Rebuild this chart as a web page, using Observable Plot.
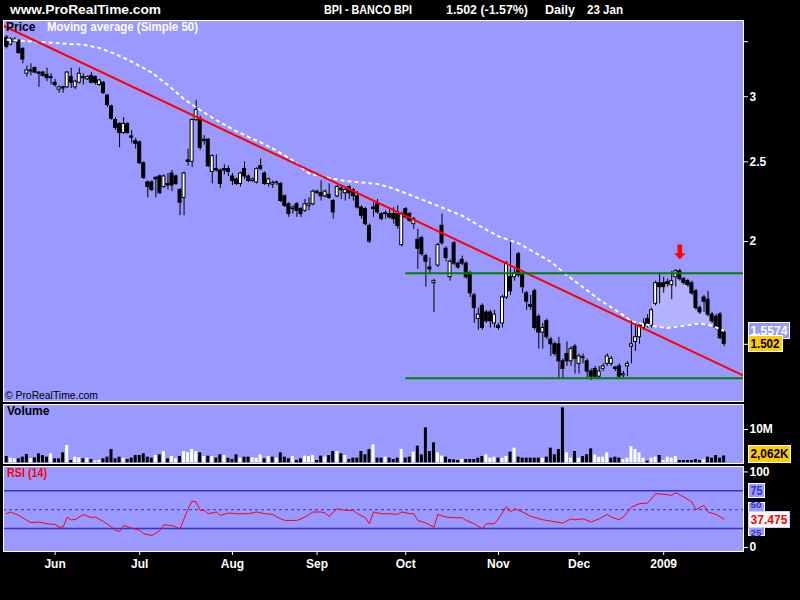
<!DOCTYPE html>
<html><head><meta charset="utf-8">
<script src="https://cdn.jsdelivr.net/npm/d3@7"></script>
<script src="https://cdn.jsdelivr.net/npm/@observablehq/plot@0.6"></script>
<style>
html,body{margin:0;padding:0;background:#000;}
#wrap{position:relative;width:800px;height:600px;background:#000;overflow:hidden;}
#wrap svg{position:absolute;left:0;}
</style></head><body><div id="wrap"></div>
<script>
// ---- DATA ----
const open = [3.54,3.47,3.50,3.51,3.43,3.20,3.22,3.25,3.21,3.21,
3.19,3.17,3.12,3.06,3.08,3.08,3.17,3.08,3.12,3.16,
3.15,3.18,3.17,3.10,3.12,3.01,2.92,2.81,2.78,2.71,
2.78,2.685,2.65,2.64,2.49,2.36,2.36,2.39,2.40,2.33,
2.35,2.42,2.40,2.31,2.26,2.51,2.50,2.81,2.82,2.66,
2.66,2.43,2.45,2.44,2.45,2.45,2.40,2.38,2.35,2.45,
2.40,2.37,2.36,2.47,2.42,2.35,2.345,2.36,2.35,2.27,
2.22,2.19,2.22,2.19,2.18,2.21,2.22,2.30,2.29,2.27,
2.28,2.24,2.27,2.32,2.29,2.33,2.31,2.27,2.20,2.19,
2.09,2.20,2.22,2.16,2.165,2.16,2.16,2.16,1.98,2.19,
2.16,2.10,2.01,2.02,1.92,1.86,1.78,1.87,2.09,1.96,
1.81,1.99,1.88,1.90,1.88,1.83,1.72,1.61,1.67,1.64,
1.64,1.59,1.58,1.59,1.71,1.81,1.81,1.93,1.82,1.73,
1.675,1.74,1.62,1.55,1.60,1.52,1.50,1.50,1.43,1.46,
1.43,1.49,1.42,1.447,1.43,1.39,1.40,1.37,1.40,1.42,
1.42,1.405,1.41,1.375,1.41,1.49,1.51,1.53,1.57,1.61,
1.58,1.68,1.78,1.78,1.785,1.77,1.81,1.84,1.80,1.79,
1.78,1.74,1.66,1.71,1.70,1.63,1.62,1.63,1.55];
const high = [3.56,3.54,3.54,3.52,3.44,3.27,3.29,3.26,3.22,3.22,
3.25,3.20,3.15,3.09,3.09,3.22,3.25,3.14,3.25,3.20,
3.18,3.21,3.18,3.15,3.13,3.02,2.93,2.83,2.79,2.83,
2.79,2.73,2.67,2.65,2.50,2.37,2.37,2.40,2.41,2.41,
2.42,2.44,2.41,2.32,2.43,2.59,2.82,2.97,2.84,2.69,
2.67,2.55,2.55,2.45,2.48,2.47,2.42,2.39,2.43,2.50,
2.41,2.39,2.46,2.52,2.43,2.39,2.37,2.37,2.36,2.28,
2.23,2.21,2.23,2.20,2.25,2.26,2.31,2.31,2.37,2.31,
2.35,2.25,2.34,2.34,2.32,2.34,2.32,2.30,2.21,2.20,
2.10,2.23,2.25,2.17,2.18,2.19,2.20,2.21,2.17,2.20,
2.17,2.14,2.07,2.03,1.93,1.91,1.80,1.99,2.16,1.97,
1.90,2.00,1.89,1.92,1.89,1.84,1.73,1.66,1.68,1.65,
1.65,1.65,1.59,1.72,1.89,2.01,1.85,1.94,1.83,1.74,
1.72,1.75,1.63,1.59,1.61,1.53,1.51,1.53,1.44,1.51,
1.49,1.50,1.46,1.46,1.44,1.40,1.41,1.41,1.42,1.46,
1.45,1.41,1.42,1.39,1.43,1.60,1.58,1.59,1.61,1.63,
1.66,1.79,1.83,1.81,1.80,1.84,1.85,1.85,1.81,1.80,
1.79,1.75,1.67,1.72,1.74,1.64,1.63,1.64,1.56];
const low = [3.43,3.46,3.49,3.38,3.29,3.17,3.18,3.20,3.08,3.17,
3.13,3.10,3.08,3.03,3.03,3.07,3.07,3.06,3.11,3.10,
3.14,3.11,3.10,3.09,3.02,2.91,2.81,2.73,2.60,2.70,
2.70,2.63,2.59,2.48,2.38,2.26,2.30,2.26,2.28,2.32,
2.31,2.30,2.34,2.15,2.15,2.47,2.46,2.80,2.58,2.62,
2.46,2.35,2.43,2.32,2.41,2.40,2.34,2.34,2.33,2.38,
2.36,2.36,2.35,2.44,2.34,2.33,2.32,2.34,2.23,2.20,
2.14,2.16,2.14,2.14,2.17,2.18,2.21,2.28,2.24,2.26,
2.25,2.13,2.26,2.25,2.24,2.25,2.24,2.19,2.13,2.09,
1.99,2.14,2.16,2.12,2.13,2.13,2.10,2.07,1.97,2.13,
2.11,2.07,1.85,1.92,1.76,1.83,1.64,1.86,1.98,1.89,
1.79,1.87,1.85,1.87,1.80,1.71,1.59,1.56,1.56,1.59,
1.57,1.57,1.56,1.57,1.70,1.72,1.79,1.81,1.73,1.65,
1.65,1.56,1.48,1.48,1.52,1.45,1.45,1.36,1.36,1.41,
1.41,1.38,1.38,1.42,1.36,1.355,1.36,1.36,1.39,1.41,
1.41,1.39,1.365,1.36,1.37,1.42,1.47,1.50,1.56,1.57,
1.57,1.67,1.68,1.73,1.76,1.70,1.76,1.79,1.77,1.76,
1.72,1.65,1.63,1.64,1.62,1.59,1.56,1.52,1.49];
const close = [3.45,3.52,3.52,3.39,3.33,3.23,3.23,3.21,3.20,3.18,
3.16,3.16,3.10,3.08,3.07,3.21,3.12,3.13,3.20,3.17,
3.17,3.12,3.12,3.14,3.03,2.93,2.82,2.75,2.71,2.78,
2.71,2.675,2.63,2.49,2.39,2.33,2.31,2.38,2.29,2.40,
2.34,2.34,2.35,2.23,2.42,2.50,2.81,2.89,2.60,2.65,
2.47,2.54,2.44,2.35,2.44,2.43,2.37,2.35,2.42,2.40,
2.37,2.38,2.45,2.45,2.35,2.38,2.355,2.355,2.24,2.21,
2.16,2.20,2.18,2.16,2.22,2.22,2.30,2.29,2.27,2.30,
2.26,2.17,2.33,2.31,2.31,2.29,2.27,2.20,2.15,2.10,
2.00,2.19,2.17,2.13,2.16,2.14,2.13,2.09,2.16,2.14,
2.12,2.13,1.96,1.93,1.89,1.85,1.79,1.98,1.99,1.91,
1.89,1.88,1.86,1.88,1.81,1.73,1.66,1.63,1.57,1.60,
1.60,1.63,1.57,1.71,1.88,1.74,1.83,1.82,1.76,1.69,
1.665,1.57,1.55,1.57,1.53,1.50,1.46,1.43,1.40,1.43,
1.48,1.44,1.45,1.443,1.39,1.37,1.37,1.39,1.41,1.45,
1.44,1.40,1.37,1.38,1.42,1.50,1.53,1.58,1.59,1.58,
1.65,1.78,1.76,1.76,1.775,1.79,1.84,1.80,1.78,1.77,
1.73,1.66,1.64,1.69,1.63,1.60,1.57,1.526,1.502];
// volume in millions of shares
const volumeM = [1.9,1.4,1.2,1.2,1.7,2.5,1.2,1.5,2.7,2.2,
1.7,2.7,1.2,1.2,3.0,5.2,0.7,1.7,1.5,1.2,
1.4,1.0,0.5,0.7,1.2,1.7,4.0,1.2,1.7,1.4,
1.0,1.4,2.2,2.2,2.7,1.7,1.4,2.2,2.4,3.4,
1.2,1.9,1.2,1.9,3.4,3.0,4.0,3.4,3.0,1.9,
2.0,1.9,1.4,2.4,2.2,1.4,1.0,2.4,1.4,1.7,
1.7,1.5,1.4,2.4,1.2,1.9,1.7,1.4,3.0,1.7,
1.2,1.9,0.7,1.2,2.0,1.9,2.2,0.7,2.0,1.7,
2.2,3.4,3.4,2.7,2.2,1.0,1.4,1.4,3.4,2.4,
4.0,5.4,1.4,1.4,1.7,1.4,1.0,1.4,4.0,1.4,
1.7,3.2,5.0,2.4,10.5,3.4,6.0,3.0,2.0,1.7,
1.0,0.9,0.7,1.0,1.0,1.0,1.0,1.4,1.9,2.4,
1.4,1.7,1.4,1.4,1.9,3.2,4.4,1.7,1.4,1.4,
1.4,1.4,1.4,1.4,1.7,4.4,2.4,4.0,16.5,3.0,
1.4,3.4,1.4,1.9,2.4,4.2,2.4,1.7,1.7,3.0,
1.4,1.7,1.4,1.0,1.4,4.9,4.0,3.0,1.4,0.5,
1.4,1.7,2.2,0.7,1.7,1.4,1.9,0.7,0.7,0.7,
0.7,1.0,0.7,0.9,1.7,1.4,2.2,1.4,2.062];
// Simple moving average (50), sampled at bar indexes
const maIdx = [0,7,11,15,19,23,27,31,36,40,44,48,52,56,60,63,67,71,75,80,84,88,92,96,100,104,108,113,118,122,127,131,135,139,143,147,152,155,160,164,168,172,175,178];
const maVal = [3.52,3.50,3.49,3.48,3.47,3.44,3.38,3.31,3.21,3.10,2.98,2.89,2.81,2.74,2.68,2.64,2.58,2.51,2.42,2.39,2.37,2.36,2.35,2.32,2.28,2.24,2.20,2.15,2.08,2.03,1.99,1.94,1.89,1.82,1.76,1.70,1.64,1.60,1.58,1.57,1.58,1.59,1.58,1.5574];
// RSI(14), sampled at bar indexes
const rsiIdx = [0,1,3,5,6,8,10,12,13,14,15,16,17,19,21,22,24,26,27,28,29,31,33,34,36,37,38,39,41,43,44,45,46,47,48,49,50,52,53,55,57,59,60,62,64,66,67,69,71,72,74,76,78,79,80,81,82,84,86,87,89,90,91,93,95,97,98,100,101,102,104,106,107,109,111,113,114,116,118,119,121,122,124,125,126,128,130,133,135,138,140,141,143,145,147,149,150,152,153,155,157,159,161,163,165,166,168,170,171,173,174,176,178];
const rsiVal = [44.7,47,42.5,35.8,33,33.6,31.4,30.5,27,27,40,36.7,37,43.8,39.4,40.3,34.5,27,22.6,21.2,29.2,25.7,22.6,18.1,16,19,22.6,30,29.2,24.8,38,51.3,61.5,60.2,49.1,49,44.7,47,42.5,45.6,44.7,44.7,44.7,47,44.7,43.8,40.3,35.8,35.8,35.8,40.3,47,47,45.6,41.2,47,51.3,49.1,49.1,44.7,39.4,31.4,47,44.7,44.7,43.8,47,44.7,44.7,35.8,32.3,27,43.8,40.3,39.4,39.4,35.8,31.4,24.8,31.4,31.4,38,54.4,47,51.3,47,41.2,36.7,35,32.3,38,36.7,38,33.6,38,43.8,40.3,36.7,40.3,53.5,58,58.8,71.2,70.4,69,72.6,66.8,60.2,50,55.8,47,43.8,37.475];
const rsiLevels = [75, 25];
const rsiMid = [50];
// axis ticks
const monthIdx = [12,33,56,77,99,122,142,163];
const monthLabels = ["Jun","Jul","Aug","Sep","Oct","Nov","Dec","2009"];
const priceTicks = [1.5,2,2.5,3,3.5];
const priceTickLabels = ["","2","2.5","3",""];
// drawn annotations
const trendIdx = [-0.8,182.8];
const trendVal = [3.66,1.374];
const levelVals = [1.83,1.364];
const levelStart = 99;
const arrowIdx = [167];
const arrowVal = [1.945];
// header / last values
const siteName = "www.ProRealTime.com";
const ticker = "BPI - BANCO BPI";
const lastClose = 1.502, pctChange = -1.57, maLast = 1.5574, volLast = 2.062, volLastText = "2,062K", rsiLast = 37.475;
const period = "Daily", lastDate = "23 Jan";

// ---- CHART ----
const font = '"Liberation Sans", Arial, sans-serif';
const xDomain = [-0.8, 182.8];
const baseStyle = {background:"transparent", color:"#fff", fontFamily:font, fontSize:"12px", fontWeight:"bold", overflow:"visible"};
const bars = close.map((c,i)=>({i, o:open[i], h:high[i], l:low[i], c}));
const maPts = maIdx.map((i,k)=>({i, v:maVal[k]}));
const maInterp = d3.scaleLinear().domain(maIdx).range(maVal);
const zone = d3.range(150,179).map(i=>({i, lo:maInterp(i), hi:Math.max(close[i], maInterp(i))}));
const trend = trendIdx.map((i,k)=>({i, v:trendVal[k]}));
const arrows = arrowIdx.map((i,k)=>({i, v:arrowVal[k]}));
const arrowSymbol = {draw(ctx, size){
  const s = Math.sqrt(size/Math.PI)/8;
  ctx.moveTo(-2.3*s,-7*s); ctx.lineTo(2.3*s,-7*s); ctx.lineTo(2.3*s,1.7*s);
  ctx.lineTo(5.5*s,1.7*s); ctx.lineTo(0,8*s); ctx.lineTo(-5.5*s,1.7*s);
  ctx.lineTo(-2.3*s,1.7*s); ctx.closePath();
}};

const pricePlot = Plot.plot({
  width:800, height:402, marginTop:20, marginBottom:1, marginLeft:3, marginRight:57,
  style:baseStyle,
  x:{domain:xDomain, axis:null, label:null},
  y:{type:"log", domain:[1.278,3.714], label:null},
  marks:[
    Plot.frame({fill:"#9999ff", stroke:"none"}),
    Plot.areaY(zone, {x:"i", y1:"lo", y2:"hi", fill:"#b3b3ff"}),
    Plot.ruleX(bars, {x:"i", y1:"l", y2:"h", stroke:"#000", strokeWidth:1}),
    Plot.rect(bars, {x1:d=>d.i-0.37, x2:d=>d.i+0.37, y1:d=>Math.min(d.o,d.c), y2:d=>Math.max(d.o,d.c),
      fill:d=>d.c>=d.o?"#fff":"#000", stroke:"#000", strokeWidth:1}),
    Plot.line(maPts, {x:"i", y:"v", stroke:"#fff", strokeWidth:2, strokeDasharray:"4,3", strokeLinecap:"butt"}),
    Plot.line(trend, {x:"i", y:"v", stroke:"#ff0000", strokeWidth:2}),
    Plot.ruleY(levelVals, {y:d=>d, x1:levelStart, x2:xDomain[1], stroke:"#008000", strokeWidth:2}),
    Plot.dot(arrows, {x:"i", y:"v", r:8, symbol:arrowSymbol, fill:"#ff0000", stroke:"none"}),
    Plot.axisY({anchor:"right", label:null, ticks:priceTicks, tickSize:4, tickPadding:2,
      tickFormat:d=>priceTickLabels[priceTicks.indexOf(d)] ?? ""}),
    Plot.frame({stroke:"#fff", fill:"none"})
  ]
});

const vol = volumeM.map((v,i)=>({i, v, up: i===0 ? close[0]>=open[0] : close[i]>=close[i-1]}));
const volPlot = Plot.plot({
  width:800, height:61, marginTop:1, marginBottom:1, marginLeft:3, marginRight:57,
  style:baseStyle,
  x:{domain:xDomain, axis:null, label:null},
  y:{domain:[-0.2,17.5], label:null},
  marks:[
    Plot.frame({fill:"#9999ff", stroke:"none"}),
    Plot.rect(vol, {x1:d=>d.i-0.37, x2:d=>d.i+0.37, y1:0, y2:"v", fill:d=>d.up?"#fff":"#000"}),
    Plot.axisY({anchor:"right", label:null, ticks:[10], tickFormat:d=>d+"M", tickSize:4, tickPadding:2}),
    Plot.frame({stroke:"#fff", fill:"none"})
  ]
});

const rsiPts = rsiIdx.map((i,k)=>({i, v:rsiVal[k]}));
const rsiPlot = Plot.plot({
  width:800, height:135, marginTop:1, marginBottom:49, marginLeft:3, marginRight:57,
  style:baseStyle,
  x:{domain:xDomain, label:null},
  y:{domain:[-5.3,107.2], label:null},
  marks:[
    Plot.frame({fill:"#9999ff", stroke:"none"}),
    Plot.ruleY(rsiLevels, {stroke:"#3333cc", strokeWidth:1.5}),
    Plot.ruleY(rsiMid, {stroke:"#3333cc", strokeWidth:1, strokeDasharray:"3,3"}),
    Plot.line(rsiPts, {x:"i", y:"v", stroke:"#ff0000", strokeWidth:1}),
    Plot.axisY({anchor:"right", label:null, ticks:[0,100], tickSize:4, tickPadding:2}),
    Plot.axisX({anchor:"bottom", label:null, ticks:monthIdx, tickSize:4, tickPadding:4,
      tickFormat:d=>monthLabels[monthIdx.indexOf(d)]}),
    Plot.frame({stroke:"#fff", fill:"none"})
  ]
});

const wrap = d3.select("#wrap");
wrap.append(()=>pricePlot).style("top","0px");
wrap.append(()=>volPlot).style("top","403px");
wrap.append(()=>rsiPlot).style("top","465px");

// ---- overlay texts and value boxes ----
const ov = wrap.append("svg").attr("width",800).attr("height",600)
  .style("top","0px").style("font-family",font);
function label(x,y,s,{fill="#fff",size=12,weight="bold",len=null}={}){
  const t = ov.append("text").attr("x",x).attr("y",y).attr("fill",fill)
    .attr("font-size",size).attr("font-weight",weight).text(s);
  if (len) t.attr("textLength",len).attr("lengthAdjust","spacingAndGlyphs");
  return t;
}
function box(x,y0,w,h,s,{fill,stroke="#fff",color,len,size=12,base}){
  ov.append("rect").attr("x",x+0.5).attr("y",Math.round(y0)+0.5).attr("width",w).attr("height",h)
    .attr("fill",fill).attr("stroke",stroke);
  label(x+2.5, base ?? Math.round(y0)+h/2+4.5, s, {fill:color, len, size});
}
label(10,14,siteName,{size:13,len:151});
label(324,14,ticker,{size:13,len:88});
label(446,14,`${lastClose} (${pctChange}%)`,{size:13,len:82});
label(545,14,period,{size:13,len:30});
label(587,14,lastDate,{size:13,len:36});

label(6,31,"Price",{fill:"#000"});
label(47,31,"Moving average (Simple 50)",{len:151});
label(5,399,"© ProRealTime.com",{fill:"#000",size:10,weight:"normal",len:93});
label(7,415,"Volume",{fill:"#000"});
label(7,477,"RSI (14)",{fill:"#ff0000",len:40});

const yP = v=>pricePlot.scale("y").apply(v);
const yV = v=>403+volPlot.scale("y").apply(v);
const yR = v=>465+rsiPlot.scale("y").apply(v);
box(748, yP(maLast)-8, 41, 16, String(maLast), {fill:"#9999ff", color:"#fff", len:37});
box(748, yP(lastClose)-8, 34, 16, String(lastClose), {fill:"#ffcc00", color:"#000", len:29});
box(748, Math.min(yV(volLast), 453)-8.5, 42, 17, volLastText, {fill:"#ffcc00", color:"#000", len:38});
// RSI level boxes: 75 fully visible, 50 and 25 partly under the last-value box
box(748, yR(75)-7, 16, 14, "75", {fill:"#9999ff", color:"#3333cc", len:12});
box(748, yR(50)-7, 16, 14, "50", {fill:"#9999ff", color:"#3333cc", len:11, size:9, base:yR(50)-1});
box(748, yR(25)-7, 16, 14, "25", {fill:"#9999ff", color:"#3333cc", len:11, size:9, base:yR(25)+8});
box(748, yR(rsiLast)-8, 41, 16, String(rsiLast), {fill:"#fff", stroke:"#ccccff", color:"#ff0000", len:37});
</script>
</body></html>
